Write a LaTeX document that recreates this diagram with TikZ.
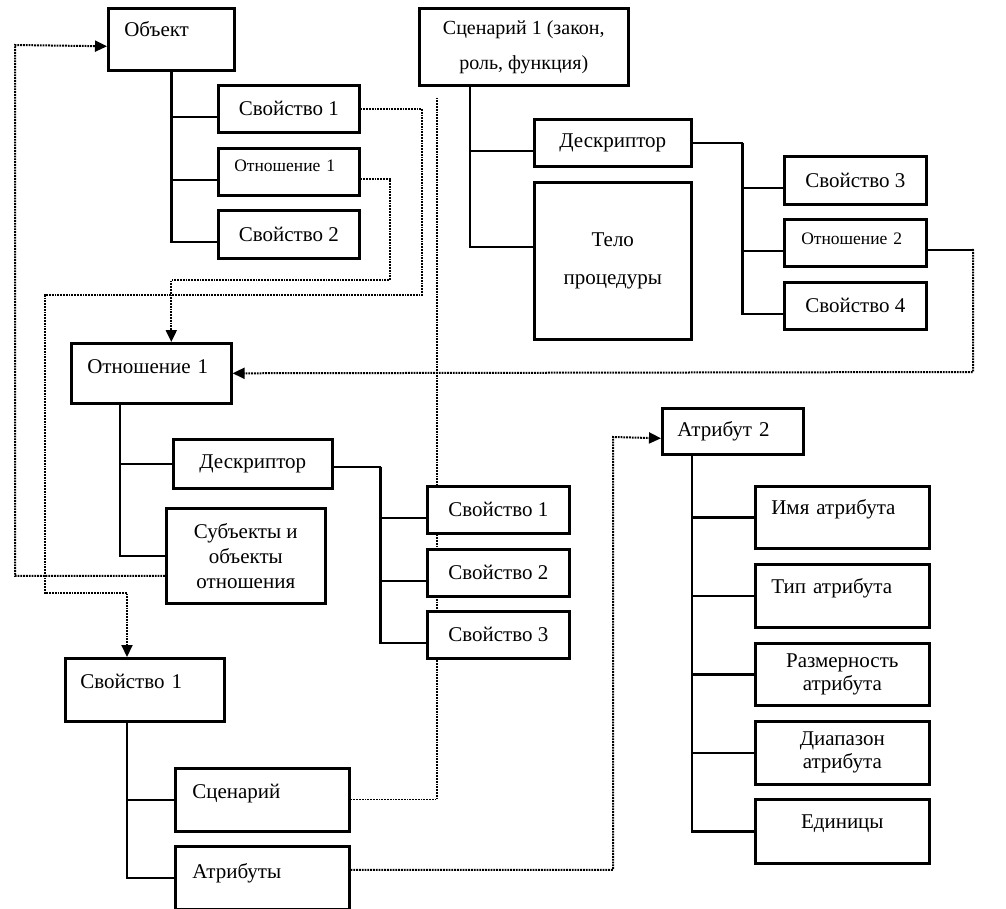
\documentclass[tikz,border=0pt]{standalone}
\usepackage{fontspec}
\setmainfont{Liberation Serif}
\usetikzlibrary{arrows.meta,backgrounds}

\tikzset{
  box/.style={draw, line width=2.6pt, fill=white, inner sep=0pt, font=\fontsize{21}{25}\selectfont},
  cbox/.style 2 args={box, anchor=north west, align=center, minimum width=#1pt, minimum height=#2pt},
  tlbox/.style n args={4}{box, anchor=north west, align=left, inner xsep=#1pt, text width=#2pt, text height=#3pt, text depth=#4pt},
  small/.style={font=\fontsize{17.5}{20}\selectfont},
  tree/.style={line width=2.4pt},
  link/.style={line width=2pt, dash pattern=on 1.8pt off 1pt},
  >={Triangle[length=12pt, width=11pt]}
}

\begin{document}
\begin{tikzpicture}[x=1pt, y=-1pt]
    \useasboundingbox (0,0) rectangle (1006,909);

    % object and its parts
    \node[tlbox={16}{94}{28}{34}] (obj) at (107,7) {Объект};
    \node[cbox={141}{47}] (s1a) at (217,84) {Свойство 1};
    \node[tlbox={16}{109}{23}{24}, small] (r1a) at (217,147) {Отношение 1};
    \node[cbox={141}{48}] (s2a) at (217,209) {Свойство 2};

    % scenario
    \node[cbox={209}{77}, font=\fontsize{20}{35}\selectfont] (sc1) at (418,7) {Сценарий 1 (закон,\\роль, функция)};
    \node[cbox={157}{47}] (d1) at (533,118) {Дескриптор};
    \node[cbox={157}{157}, font=\fontsize{21}{38}\selectfont] (tp) at (533,181) {Тело\\процедуры};
    \node[cbox={142}{48}] (s3) at (783,155) {Свойство 3};
    \node[tlbox={17}{108}{25}{22}, small] (r2) at (783,218) {Отношение 2};
    \node[cbox={142}{47}] (s4) at (783,281) {Свойство 4};

    % relation
    \node[tlbox={16}{128}{30}{30}] (r1) at (70,342) {Отношение 1};
    \node[cbox={159}{49}] (d2) at (172,438) {Дескриптор};
    \node[cbox={159}{95}] (sub) at (165,507) {Субъекты и\\объекты\\отношения};
    \node[cbox={142}{47}] (s1b) at (426,485) {Свойство 1};
    \node[cbox={142}{47}] (s2b) at (426,548) {Свойство 2};
    \node[cbox={142}{47}] (s3b) at (426,610) {Свойство 3};

    % property
    \node[tlbox={15}{129}{30}{33}] (s1c) at (64,657) {Свойство 1};
    \node[tlbox={17}{140}{30}{33}] (scn) at (174,767) {Сценарий};
    \node[tlbox={17}{140}{32}{31}] (attrs) at (174,845) {Атрибуты};

    % attribute
    \node[tlbox={15}{111}{28}{18}] (a2) at (661,407) {Атрибут 2};
    \node[tlbox={16}{142}{28}{34}] (an) at (754,485) {Имя атрибута};
    \node[tlbox={16}{142}{29}{34}] (at) at (754,563) {Тип атрибута};
    \node[cbox={174}{62}, font=\fontsize{21}{23}\selectfont] (ad) at (754,642) {Размерность\\атрибута};
    \node[cbox={174}{63}, font=\fontsize{21}{23}\selectfont] (ar) at (754,720) {Диапазон\\атрибута};
    \node[tlbox={0}{174}{29}{35}, align=center] (au) at (754,798) {Единицы};

    % tree lines
    \foreach \c in {s1a,r1a,s2a}
        \draw[tree] (obj.south) |- ([yshift=-8pt]\c.west);

    \coordinate (sc1t) at ([xshift=52pt]sc1.south west);
    \draw[tree] (sc1t) |- ([yshift=-8pt]d1.west);
    \draw[tree] (sc1t) |- ([yshift=14pt]tp.west);

    \coordinate (d1t) at ([xshift=50pt]d1.east);
    \draw[tree] (d1.east) -- (d1t);
    \foreach \c in {s3,r2,s4}
        \draw[tree] (d1t) |- ([yshift=-8pt]\c.west);

    \coordinate (r1t) at ([xshift=50pt]r1.south west);
    \draw[tree] (r1t) |- (d2.west);
    \draw[tree] (r1t) |- (sub.west);

    \coordinate (d2t) at ([xshift=47pt,yshift=-3pt]d2.east);
    \draw[tree] ([yshift=-3pt]d2.east) -- (d2t);
    \foreach \c in {s1b,s2b,s3b}
        \draw[tree] (d2t) |- ([yshift=-8pt]\c.west);

    \coordinate (s1ct) at ([xshift=63pt]s1c.south west);
    \draw[tree] (s1ct) |- (scn.west);
    \draw[tree] (s1ct) |- (attrs.west);

    \coordinate (a2t) at ([xshift=31pt]a2.south west);
    \foreach \c in {an,at,ad,ar,au}
        \draw[tree] (a2t) |- (\c.west);

    \coordinate (r2s) at ([xshift=46pt,yshift=-7pt]r2.east);
    \draw[line width=2pt] ([yshift=-7pt]r2.east) -- (r2s);

    % dotted links
    \coordinate (sc1f) at ([xshift=19pt,yshift=-11pt]sc1.south west);
    \begin{scope}[on background layer]
        \draw[link,->] (s1a.east) -| (422,295) -| (45,593) -| (s1ct |- s1c.north);
        \draw[link,->] ([yshift=-7pt]r1a.east) -| (390,280) -| ([xshift=20pt]r1.north);
        \draw[link,->] ([yshift=-20pt]sub.west) -| (15,45) -- ([yshift=-7pt]obj.west);
        \draw[link,->] (r2s) -| (973,372) -- (r1.east);
        \draw[link, line width=1.3pt] (sc1f) |- (scn.east);
        \draw[link,->] ([yshift=8pt]attrs.east) -| (613,437) -- ([yshift=-7pt]a2.west);
    \end{scope}
\end{tikzpicture}
\end{document}
